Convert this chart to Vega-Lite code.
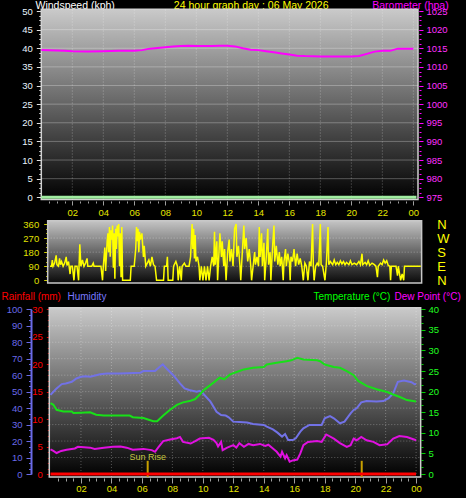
{
"$schema":"https://vega.github.io/schema/vega-lite/v6.json",
"width":466,"height":498,"autosize":{"type":"none"},"padding":0,"background":"#000000",
"config":{"view":{"stroke":null},"axis":{"grid":false,"domain":false,"labelFlush":false,"labelOverlap":false,"labelFont":"Liberation Sans Narrow, Liberation Sans, sans-serif","labelFontSize":9.5,"titleFont":"Liberation Sans, sans-serif","titleFontSize":10.5,"titleFontWeight":"normal","tickWidth":1,"format":"d"}},
"datasets":{
"one":[{"a":0}],
"g5":[{"v":5},{"v":10},{"v":15},{"v":20},{"v":25},{"v":30},{"v":35},{"v":40},{"v":45}],
"g2h":[{"h":2},{"h":4},{"h":6},{"h":8},{"h":10},{"h":12},{"h":14},{"h":16},{"h":18},{"h":20},{"h":22},{"h":24}],
"g90":[{"v":90},{"v":180},{"v":270}],
"g10":[{"v":10},{"v":20},{"v":30},{"v":40},{"v":50},{"v":60},{"v":70},{"v":80},{"v":90}],
"ws":[{"t":0,"ws":0},{"t":24.2,"ws":0}],
"rain":[{"t":0,"r":0},{"t":24,"r":0}],
"sun":[{"t":6.38,"event":"Sun Rise"},{"t":20.43,"event":"Sun Set"}],
"baro":[{"t":0,"p":1014.5},{"t":1,"p":1014.4},{"t":1.5,"p":1014.3},{"t":2,"p":1014.2},{"t":3,"p":1014.1},{"t":4,"p":1014.2},{"t":5,"p":1014.3},{"t":6,"p":1014.3},{"t":6.5,"p":1014.5},{"t":7,"p":1014.9},{"t":7.5,"p":1015.1},{"t":8,"p":1015.3},{"t":8.5,"p":1015.5},{"t":9,"p":1015.6},{"t":9.5,"p":1015.7},{"t":10,"p":1015.6},{"t":11,"p":1015.6},{"t":11.5,"p":1015.7},{"t":12,"p":1015.7},{"t":12.5,"p":1015.5},{"t":13,"p":1015.0},{"t":13.5,"p":1014.6},{"t":14,"p":1014.5},{"t":14.5,"p":1014.2},{"t":15,"p":1013.9},{"t":15.5,"p":1013.6},{"t":16,"p":1013.3},{"t":16.5,"p":1013.0},{"t":17,"p":1012.9},{"t":18,"p":1012.8},{"t":19,"p":1012.8},{"t":20,"p":1012.8},{"t":20.5,"p":1012.9},{"t":21,"p":1013.5},{"t":21.5,"p":1014.1},{"t":22,"p":1014.3},{"t":22.5,"p":1014.3},{"t":23,"p":1014.9},{"t":24,"p":1014.9}],
"hum":[{"t":0,"v":48},{"t":0.1,"v":49},{"t":0.4,"v":52},{"t":0.74,"v":54.6},{"t":1,"v":55},{"t":1.4,"v":56},{"t":1.7,"v":58},{"t":2,"v":59},{"t":2.3,"v":59.3},{"t":2.6,"v":59},{"t":3,"v":60},{"t":3.25,"v":60.5},{"t":3.7,"v":61},{"t":4.5,"v":61},{"t":5,"v":61.2},{"t":5.9,"v":61.5},{"t":6.1,"v":62.5},{"t":6.86,"v":62.5},{"t":7.1,"v":64.5},{"t":7.37,"v":66.6},{"t":7.6,"v":64.2},{"t":8.06,"v":60},{"t":8.5,"v":55},{"t":8.8,"v":52},{"t":9.1,"v":51},{"t":9.6,"v":50},{"t":9.8,"v":50.5},{"t":10,"v":49},{"t":10.5,"v":43.9},{"t":10.9,"v":37.8},{"t":11.2,"v":35.8},{"t":11.5,"v":35.5},{"t":11.7,"v":34.4},{"t":12,"v":31.8},{"t":12.4,"v":31.5},{"t":12.9,"v":31.2},{"t":13.3,"v":30.4},{"t":14,"v":29.8},{"t":14.2,"v":28.7},{"t":14.6,"v":27.1},{"t":14.9,"v":25.1},{"t":15.2,"v":22.7},{"t":15.4,"v":24.3},{"t":15.6,"v":20.6},{"t":15.9,"v":20.6},{"t":16.1,"v":21.7},{"t":16.4,"v":25.7},{"t":16.6,"v":27.7},{"t":17,"v":29.8},{"t":17.8,"v":29.8},{"t":18,"v":33.8},{"t":18.35,"v":35.2},{"t":18.6,"v":33.8},{"t":19,"v":30.8},{"t":19.3,"v":31.8},{"t":19.7,"v":36.8},{"t":19.9,"v":38.9},{"t":20.1,"v":39.9},{"t":20.4,"v":43.5},{"t":20.75,"v":44.3},{"t":21.4,"v":44},{"t":21.85,"v":44.3},{"t":22.2,"v":46},{"t":22.5,"v":49},{"t":22.8,"v":56},{"t":23.2,"v":56.7},{"t":23.7,"v":55.7},{"t":23.9,"v":54.5},{"t":24,"v":54.6}],
"temp":[{"t":0,"c":17.2},{"t":0.19,"c":16.8},{"t":0.4,"c":15.6},{"t":0.84,"c":15.2},{"t":1.4,"c":15.2},{"t":1.5,"c":14.8},{"t":2,"c":14.9},{"t":2.6,"c":15.0},{"t":3,"c":14.4},{"t":3.5,"c":14.2},{"t":5.2,"c":14.2},{"t":5.4,"c":13.8},{"t":6.1,"c":13.6},{"t":6.5,"c":13.1},{"t":6.75,"c":12.8},{"t":7,"c":12.8},{"t":7.4,"c":14.2},{"t":7.85,"c":15.6},{"t":8.3,"c":16.8},{"t":8.7,"c":17.4},{"t":9.2,"c":17.8},{"t":9.5,"c":18.2},{"t":9.8,"c":19.3},{"t":10.1,"c":20.5},{"t":10.7,"c":22.2},{"t":11.1,"c":23.4},{"t":11.4,"c":23.0},{"t":11.8,"c":24.2},{"t":12.4,"c":25.0},{"t":12.7,"c":25.4},{"t":13.3,"c":25.8},{"t":14,"c":26.0},{"t":14.2,"c":26.6},{"t":14.85,"c":27.0},{"t":15.5,"c":27.4},{"t":15.8,"c":27.6},{"t":16.2,"c":28.2},{"t":16.6,"c":27.8},{"t":17.5,"c":27.6},{"t":17.7,"c":27.4},{"t":18,"c":26.6},{"t":18.6,"c":26.0},{"t":19,"c":25.8},{"t":19.45,"c":25.0},{"t":19.9,"c":24.0},{"t":20.2,"c":22.6},{"t":20.75,"c":21.4},{"t":21.4,"c":20.6},{"t":22.1,"c":19.9},{"t":22.5,"c":19.3},{"t":22.9,"c":18.75},{"t":23.4,"c":17.95},{"t":24,"c":17.6}],
"dew":[{"t":0,"c":6.0},{"t":0.19,"c":5.6},{"t":0.4,"c":5.1},{"t":0.7,"c":5.6},{"t":1.06,"c":5.9},{"t":1.6,"c":6.2},{"t":1.8,"c":6.6},{"t":2.6,"c":6.4},{"t":2.9,"c":6.1},{"t":3.5,"c":6.4},{"t":4.1,"c":6.6},{"t":4.6,"c":6.7},{"t":5.0,"c":6.4},{"t":5.4,"c":5.9},{"t":6.1,"c":6.1},{"t":6.65,"c":5.8},{"t":6.86,"c":5.4},{"t":7.1,"c":6.6},{"t":7.4,"c":8.0},{"t":7.85,"c":8.4},{"t":8.3,"c":8.7},{"t":8.5,"c":9.0},{"t":8.7,"c":7.8},{"t":9.2,"c":7.4},{"t":9.5,"c":8.0},{"t":9.8,"c":8.6},{"t":10.4,"c":8.8},{"t":10.7,"c":8.3},{"t":10.9,"c":7.5},{"t":11.0,"c":6.7},{"t":11.2,"c":7.8},{"t":11.3,"c":5.8},{"t":11.6,"c":6.4},{"t":12.0,"c":7.0},{"t":12.2,"c":6.4},{"t":12.4,"c":7.5},{"t":12.7,"c":6.6},{"t":13.0,"c":7.3},{"t":13.3,"c":7.0},{"t":13.75,"c":7.3},{"t":14.1,"c":6.8},{"t":14.3,"c":7.1},{"t":14.6,"c":6.2},{"t":14.85,"c":5.4},{"t":15.1,"c":4.2},{"t":15.2,"c":5.4},{"t":15.4,"c":3.8},{"t":15.5,"c":4.6},{"t":15.7,"c":3.0},{"t":15.9,"c":3.3},{"t":16.2,"c":3.5},{"t":16.4,"c":5.0},{"t":16.6,"c":7.0},{"t":16.9,"c":7.8},{"t":17.5,"c":8.0},{"t":17.8,"c":7.8},{"t":18.1,"c":9.6},{"t":18.6,"c":8.6},{"t":19.0,"c":7.5},{"t":19.45,"c":6.6},{"t":19.7,"c":7.0},{"t":19.9,"c":8.6},{"t":20.1,"c":8.2},{"t":20.4,"c":9.0},{"t":20.75,"c":8.2},{"t":21.2,"c":7.8},{"t":21.6,"c":7.0},{"t":22.1,"c":7.2},{"t":22.5,"c":8.6},{"t":22.9,"c":9.2},{"t":23.4,"c":9.0},{"t":24.0,"c":8.2}],
"dir":[{"t":0,"d":90},{"t":0.1,"d":90},{"t":0.15,"d":130},{"t":0.2,"d":90},{"t":0.3,"d":110},{"t":0.4,"d":160},{"t":0.45,"d":100},{"t":0.55,"d":90},{"t":0.62,"d":140},{"t":0.68,"d":100},{"t":0.75,"d":120},{"t":0.85,"d":90},{"t":0.95,"d":110},{"t":1.05,"d":150},{"t":1.1,"d":95},{"t":1.2,"d":120},{"t":1.3,"d":40},{"t":1.35,"d":90},{"t":1.45,"d":90},{"t":1.55,"d":0},{"t":1.62,"d":90},{"t":1.75,"d":90},{"t":1.85,"d":0},{"t":1.93,"d":230},{"t":2.0,"d":90},{"t":2.1,"d":130},{"t":2.2,"d":90},{"t":2.3,"d":110},{"t":2.4,"d":140},{"t":2.45,"d":90},{"t":2.7,"d":90},{"t":2.8,"d":110},{"t":2.85,"d":90},{"t":3.3,"d":90},{"t":3.4,"d":0},{"t":3.45,"d":90},{"t":3.55,"d":210},{"t":3.6,"d":60},{"t":3.7,"d":250},{"t":3.75,"d":300},{"t":3.8,"d":180},{"t":3.85,"d":340},{"t":3.9,"d":150},{"t":3.95,"d":320},{"t":4.0,"d":260},{"t":4.05,"d":350},{"t":4.1,"d":80},{"t":4.15,"d":300},{"t":4.2,"d":10},{"t":4.25,"d":330},{"t":4.3,"d":200},{"t":4.35,"d":350},{"t":4.4,"d":280},{"t":4.45,"d":360},{"t":4.5,"d":90},{"t":4.55,"d":300},{"t":4.6,"d":20},{"t":4.65,"d":340},{"t":4.7,"d":0},{"t":5.2,"d":0},{"t":5.25,"d":90},{"t":5.45,"d":90},{"t":5.55,"d":200},{"t":5.6,"d":340},{"t":5.65,"d":250},{"t":5.7,"d":330},{"t":5.75,"d":180},{"t":5.8,"d":310},{"t":5.85,"d":260},{"t":5.95,"d":300},{"t":6.05,"d":150},{"t":6.1,"d":220},{"t":6.2,"d":90},{"t":6.3,"d":110},{"t":6.4,"d":130},{"t":6.5,"d":90},{"t":6.6,"d":150},{"t":6.7,"d":100},{"t":6.8,"d":90},{"t":6.9,"d":0},{"t":7.35,"d":0},{"t":7.4,"d":90},{"t":7.55,"d":90},{"t":7.6,"d":150},{"t":7.65,"d":0},{"t":7.95,"d":0},{"t":8.0,"d":90},{"t":8.15,"d":120},{"t":8.25,"d":90},{"t":8.3,"d":0},{"t":8.4,"d":90},{"t":8.5,"d":0},{"t":8.55,"d":90},{"t":8.7,"d":110},{"t":8.8,"d":90},{"t":9.0,"d":90},{"t":9.1,"d":150},{"t":9.2,"d":360},{"t":9.25,"d":200},{"t":9.3,"d":330},{"t":9.35,"d":140},{"t":9.4,"d":290},{"t":9.45,"d":120},{"t":9.55,"d":150},{"t":9.65,"d":90},{"t":9.7,"d":0},{"t":9.8,"d":90},{"t":9.9,"d":0},{"t":10.0,"d":90},{"t":10.1,"d":0},{"t":10.2,"d":90},{"t":10.3,"d":0},{"t":10.4,"d":90},{"t":10.5,"d":150},{"t":10.6,"d":90},{"t":10.65,"d":310},{"t":10.7,"d":100},{"t":10.8,"d":250},{"t":10.85,"d":0},{"t":10.95,"d":200},{"t":11.0,"d":300},{"t":11.1,"d":150},{"t":11.15,"d":250},{"t":11.25,"d":90},{"t":11.3,"d":200},{"t":11.4,"d":0},{"t":11.5,"d":180},{"t":11.6,"d":260},{"t":11.65,"d":120},{"t":11.75,"d":200},{"t":11.85,"d":90},{"t":11.95,"d":330},{"t":12.05,"d":360},{"t":12.1,"d":150},{"t":12.2,"d":220},{"t":12.3,"d":90},{"t":12.35,"d":0},{"t":12.45,"d":180},{"t":12.55,"d":350},{"t":12.6,"d":200},{"t":12.7,"d":270},{"t":12.8,"d":120},{"t":12.9,"d":200},{"t":13.0,"d":90},{"t":13.05,"d":0},{"t":13.15,"d":90},{"t":13.25,"d":180},{"t":13.3,"d":100},{"t":13.4,"d":150},{"t":13.5,"d":90},{"t":13.55,"d":340},{"t":13.6,"d":150},{"t":13.7,"d":300},{"t":13.75,"d":90},{"t":13.85,"d":240},{"t":13.9,"d":0},{"t":14.0,"d":150},{"t":14.1,"d":330},{"t":14.15,"d":100},{"t":14.25,"d":180},{"t":14.3,"d":0},{"t":14.4,"d":200},{"t":14.5,"d":350},{"t":14.55,"d":120},{"t":14.65,"d":220},{"t":14.75,"d":100},{"t":14.85,"d":180},{"t":14.9,"d":90},{"t":15.0,"d":150},{"t":15.1,"d":0},{"t":15.15,"d":120},{"t":15.25,"d":200},{"t":15.3,"d":90},{"t":15.4,"d":170},{"t":15.5,"d":110},{"t":15.55,"d":0},{"t":15.6,"d":150},{"t":15.7,"d":120},{"t":15.8,"d":200},{"t":15.9,"d":90},{"t":16.0,"d":170},{"t":16.1,"d":100},{"t":16.2,"d":140},{"t":16.3,"d":90},{"t":16.4,"d":0},{"t":16.5,"d":110},{"t":16.6,"d":90},{"t":16.7,"d":0},{"t":16.8,"d":120},{"t":16.9,"d":90},{"t":17.0,"d":360},{"t":17.05,"d":90},{"t":17.1,"d":0},{"t":17.2,"d":90},{"t":17.3,"d":110},{"t":17.4,"d":90},{"t":17.5,"d":360},{"t":17.55,"d":100},{"t":17.65,"d":90},{"t":17.8,"d":0},{"t":17.9,"d":120},{"t":18.0,"d":340},{"t":18.05,"d":100},{"t":18.15,"d":120},{"t":18.3,"d":100},{"t":18.4,"d":130},{"t":18.5,"d":100},{"t":18.6,"d":115},{"t":18.7,"d":100},{"t":18.8,"d":125},{"t":18.9,"d":105},{"t":19.0,"d":120},{"t":19.1,"d":100},{"t":19.2,"d":115},{"t":19.35,"d":100},{"t":19.45,"d":125},{"t":19.55,"d":100},{"t":19.7,"d":110},{"t":19.85,"d":100},{"t":20.0,"d":120},{"t":20.1,"d":100},{"t":20.2,"d":170},{"t":20.25,"d":100},{"t":20.4,"d":115},{"t":20.5,"d":100},{"t":20.6,"d":125},{"t":20.7,"d":95},{"t":20.85,"d":110},{"t":21.0,"d":100},{"t":21.1,"d":90},{"t":21.2,"d":20},{"t":21.25,"d":90},{"t":21.4,"d":110},{"t":21.5,"d":100},{"t":21.6,"d":130},{"t":21.7,"d":110},{"t":21.8,"d":125},{"t":21.9,"d":95},{"t":22.0,"d":90},{"t":22.05,"d":0},{"t":22.1,"d":90},{"t":22.4,"d":90},{"t":22.5,"d":30},{"t":22.55,"d":90},{"t":22.7,"d":0},{"t":22.8,"d":40},{"t":22.9,"d":0},{"t":22.95,"d":90},{"t":24.0,"d":90}]
},
"layer":[
 {"data":{"name":"one"},"mark":{"type":"rect","fill":{"x1":0,"y1":0,"x2":0,"y2":1,"gradient":"linear","stops":[{"offset":0,"color":"#cacaca"},{"offset":1,"color":"#000000"}]},"stroke":"#d0d0d0","strokeWidth":1.5},
  "encoding":{
   "x":{"datum":0,"type":"quantitative","scale":{"domain":[0,24.3],"range":[41.3,418],"nice":false,"zero":false},"axis":{"orient":"bottom","offset":-297,"values":[2,4,6,8,10,12,14,16,18,20,22,24],"tickSize":4,"tickColor":"#a0a0a0","labelColor":"#e6e600","labelPadding":2,"labelExpr":"datum.value === 24 ? '00' : (datum.value < 10 ? '0' + datum.value : '' + datum.value)","title":"24 hour graph day : 06 May 2026","titleColor":"#ffff00","titleX":250.7,"titleY":-192.5,"titleAlign":"center","titleBaseline":"alphabetic","titleAngle":0}},
   "x2":{"datum":24.3},
   "y":{"datum":-0.6,"type":"quantitative","scale":{"domain":[0,50],"range":[197.3,11],"nice":false,"zero":false},"axis":{"orient":"left","offset":-41.3,"values":[0,5,10,15,20,25,30,35,40,45,50],"tickSize":5,"tickColor":"#e0e0e0","labelColor":"#e8f4ff","labelPadding":4,"title":"Windspeed (kph)","titleColor":"#ffffff","titleX":-6.3,"titleY":8.5,"titleAlign":"left","titleBaseline":"alphabetic","titleAngle":0}},
   "y2":{"datum":50.5}}},
 {"data":{"name":"g5"},"mark":{"type":"rule","color":"#ffffff","opacity":0.28},
  "encoding":{"y":{"field":"v","type":"quantitative","scale":{"domain":[0,50],"range":[197.3,11],"nice":false,"zero":false},"axis":null},"x":{"datum":0,"type":"quantitative","scale":{"domain":[0,24.3],"range":[41.3,418],"nice":false,"zero":false},"axis":null},"x2":{"datum":24.3}}},
 {"data":{"name":"g2h"},"mark":{"type":"rule","color":"#ffffff","opacity":0.35,"strokeDash":[1,2]},
  "encoding":{"x":{"field":"h","type":"quantitative","scale":{"domain":[0,24.3],"range":[41.3,418],"nice":false,"zero":false},"axis":null},"y":{"datum":-0.6,"type":"quantitative","scale":{"domain":[0,50],"range":[197.3,11],"nice":false,"zero":false},"axis":null},"y2":{"datum":50.5}}},
 {"data":{"name":"ws"},"mark":{"type":"line","color":"#a0eca0","strokeWidth":3},
  "encoding":{"x":{"field":"t","type":"quantitative","scale":{"domain":[0,24.3],"range":[41.3,418],"nice":false,"zero":false},"axis":null},"y":{"field":"ws","type":"quantitative","scale":{"domain":[0,50],"range":[197.3,11],"nice":false,"zero":false},"axis":null}}},
 {"data":{"name":"one"},"mark":{"type":"point","opacity":0},
  "encoding":{"x":{"field":"a","type":"quantitative","scale":{"domain":[0,24.3],"range":[41.3,418],"nice":false,"zero":false},"axis":{"orient":"bottom","offset":-297,"values":[0.5,1,1.5,2,2.5,3,3.5,4,4.5,5,5.5,6,6.5,7,7.5,8,8.5,9,9.5,10,10.5,11,11.5,12,12.5,13,13.5,14,14.5,15,15.5,16,16.5,17,17.5,18,18.5,19,19.5,20,20.5,21,21.5,22,22.5,23,23.5,24],"tickSize":2,"tickColor":"#a0a0a0","labels":false,"title":null}},
   "y":{"field":"a","type":"quantitative","scale":{"domain":[0,50],"range":[197.3,11],"nice":false,"zero":false},"axis":{"orient":"left","offset":-41.3,"values":[0,1.25,2.5,3.75,5,6.25,7.5,8.75,10,11.25,12.5,13.75,15,16.25,17.5,18.75,20,21.25,22.5,23.75,25,26.25,27.5,28.75,30,31.25,32.5,33.75,35,36.25,37.5,38.75,40,41.25,42.5,43.75,45,46.25,47.5,48.75,50],"tickSize":2.5,"tickColor":"#e0e0e0","labels":false,"title":null}}}},
 {"data":{"name":"baro"},"mark":{"type":"line","color":"#ff00ff","strokeWidth":2},
  "encoding":{"x":{"field":"t","type":"quantitative","scale":{"domain":[0,24.3],"range":[41.3,418],"nice":false,"zero":false},"axis":null},
   "y":{"field":"p","type":"quantitative","scale":{"domain":[975,1025],"range":[197.3,11],"nice":false,"zero":false},"axis":{"orient":"right","offset":-47,"values":[975,980,985,990,995,1000,1005,1010,1015,1020,1025],"tickSize":4,"tickColor":"#ff00ff","labelColor":"#ff30ff","labelPadding":3,"title":"Barometer (hpa)","titleColor":"#ff00ff","titleX":-47.3,"titleY":8,"titleAlign":"left","titleBaseline":"alphabetic","titleAngle":0}}}},
 {"data":{"name":"baro"},"mark":{"type":"point","opacity":0},
  "encoding":{"y":{"field":"p","type":"quantitative","scale":{"domain":[975,1025],"range":[197.3,11],"nice":false,"zero":false},"axis":{"orient":"right","offset":-47,"values":[975,976.25,977.5,978.75,980,981.25,982.5,983.75,985,986.25,987.5,988.75,990,991.25,992.5,993.75,995,996.25,997.5,998.75,1000,1001.25,1002.5,1003.75,1005,1006.25,1007.5,1008.75,1010,1011.25,1012.5,1013.75,1015,1016.25,1017.5,1018.75,1020,1021.25,1022.5,1023.75,1025],"tickSize":2,"tickColor":"#ff00ff","labels":false,"title":null}}}},
 {"data":{"name":"one"},"mark":{"type":"rect","fill":{"x1":0,"y1":0,"x2":0,"y2":1,"gradient":"linear","stops":[{"offset":0,"color":"#c4c4c4"},{"offset":1,"color":"#0a0a0a"}]},"stroke":"#c8c8c8","strokeWidth":1.5},
  "encoding":{"x":{"datum":-0.15,"type":"quantitative","scale":{"domain":[0,24],"range":[50,420.7],"nice":false,"zero":false},"axis":null},"x2":{"datum":24.06},
   "y":{"datum":-17,"type":"quantitative","scale":{"domain":[0,360],"range":[280.3,224],"nice":false,"zero":false},"axis":{"orient":"left","offset":-47.7,"values":[0,90,180,270,360],"tickSize":4,"tickColor":"#d0d000","labelColor":"#e0e000","labelPadding":5,"title":null}},"y2":{"datum":380}}},
 {"data":{"name":"g90"},"mark":{"type":"rule","color":"#ffffff","opacity":0.35,"strokeDash":[1,2]},
  "encoding":{"y":{"field":"v","type":"quantitative","scale":{"domain":[0,360],"range":[280.3,224],"nice":false,"zero":false},"axis":null},"x":{"datum":-0.15,"type":"quantitative","scale":{"domain":[0,24],"range":[50,420.7],"nice":false,"zero":false},"axis":null},"x2":{"datum":24.06}}},
 {"data":{"name":"dir"},"mark":{"type":"line","color":"#ffff00","strokeWidth":1.5},
  "encoding":{"x":{"field":"t","type":"quantitative","scale":{"domain":[0,24],"range":[50,420.7],"nice":false,"zero":false},"axis":null},"y":{"field":"d","type":"quantitative","scale":{"domain":[0,360],"range":[280.3,224],"nice":false,"zero":false},"axis":null}}},
 {"data":{"name":"dir"},"mark":{"type":"point","opacity":0},
  "encoding":{"y":{"field":"d","type":"quantitative","scale":{"domain":[0,360],"range":[280.3,224],"nice":false,"zero":false},"axis":{"orient":"left","offset":-47.7,"values":[0,30,60,90,120,150,180,210,240,270,300,330,360],"tickSize":2,"tickColor":"#d0d000","labels":false,"title":null}}}},
 {"data":{"name":"dir"},"mark":{"type":"point","opacity":0},
  "encoding":{"y":{"field":"d","type":"quantitative","scale":{"domain":[0,360],"range":[280.3,224],"nice":false,"zero":false},"axis":{"orient":"right","offset":-29.3,"values":[0,90,180,270,360],"ticks":false,"labelExpr":"datum.value == 0 || datum.value == 360 ? 'N' : (datum.value == 90 ? 'E' : (datum.value == 180 ? 'S' : 'W'))","labelFont":"Liberation Sans, sans-serif","labelFontSize":13,"labelColor":"#ffff00","labelPadding":0,"labelAlign":"left","labelBaseline":"middle","title":null}}}},
 {"data":{"name":"one"},"mark":{"type":"rect","fill":{"x1":0,"y1":0,"x2":0,"y2":1,"gradient":"linear","stops":[{"offset":0,"color":"#cacaca"},{"offset":1,"color":"#000000"}]},"stroke":"#d0d0d0","strokeWidth":1.5},
  "encoding":{
   "x":{"datum":-0.08,"type":"quantitative","scale":{"domain":[0,24],"range":[50.5,416.1],"nice":false,"zero":false},"axis":{"orient":"bottom","offset":-20,"values":[2,4,6,8,10,12,14,16,18,20,22,24],"tickSize":5,"tickColor":"#a0a0a0","labelColor":"#e6e600","labelPadding":0.5,"labelExpr":"datum.value === 24 ? '00' : (datum.value < 10 ? '0' + datum.value : '' + datum.value)","title":"Dew Point (°C)","titleFontSize":10,"titleColor":"#ff00ff","titleX":394,"titleY":-179,"titleAlign":"left","titleBaseline":"alphabetic","titleAngle":0}},
   "x2":{"datum":24.3},
   "y":{"datum":-1.8,"type":"quantitative","scale":{"domain":[0,100],"range":[474,309.3],"nice":false,"zero":false},"axis":{"orient":"left","offset":-31,"domain":true,"domainColor":"#6a6ae8","domainWidth":2,"values":[0,10,20,30,40,50,60,70,80,90,100],"tickSize":5,"tickColor":"#6a6ae8","labelColor":"#6a6ae8","labelPadding":4,"title":"Humidity","titleFontSize":10,"titleColor":"#7878ff","titleX":36,"titleY":299,"titleAlign":"left","titleBaseline":"alphabetic","titleAngle":0}},
   "y2":{"datum":101}}},
 {"data":{"name":"g10"},"mark":{"type":"rule","color":"#ffffff","opacity":0.3,"strokeDash":[1,2]},
  "encoding":{"y":{"field":"v","type":"quantitative","scale":{"domain":[0,100],"range":[474,309.3],"nice":false,"zero":false},"axis":null},"x":{"datum":-0.08,"type":"quantitative","scale":{"domain":[0,24],"range":[50.5,416.1],"nice":false,"zero":false},"axis":null},"x2":{"datum":24.3}}},
 {"data":{"name":"g2h"},"mark":{"type":"rule","color":"#ffffff","opacity":0.3,"strokeDash":[1,2]},
  "encoding":{"x":{"field":"h","type":"quantitative","scale":{"domain":[0,24],"range":[50.5,416.1],"nice":false,"zero":false},"axis":null},"y":{"datum":-1.8,"type":"quantitative","scale":{"domain":[0,100],"range":[474,309.3],"nice":false,"zero":false},"axis":null},"y2":{"datum":101}}},
 {"data":{"name":"hum"},"mark":{"type":"line","color":"#7272e6","strokeWidth":2},
  "encoding":{"x":{"field":"t","type":"quantitative","scale":{"domain":[0,24],"range":[50.5,416.1],"nice":false,"zero":false},"axis":null},"y":{"field":"v","type":"quantitative","scale":{"domain":[0,100],"range":[474,309.3],"nice":false,"zero":false},"axis":null}}},
 {"data":{"name":"sun"},"mark":{"type":"rule","color":"#c8a000","strokeWidth":2},
  "encoding":{"x":{"field":"t","type":"quantitative","scale":{"domain":[0,24],"range":[50.5,416.1],"nice":false,"zero":false},"axis":null},"y":{"datum":-1.8,"type":"quantitative","scale":{"domain":[0,100],"range":[474,309.3],"nice":false,"zero":false},"axis":null},"y2":{"datum":8}}},
 {"data":{"name":"sun"},"transform":[{"filter":"datum.event == 'Sun Rise'"}],"mark":{"type":"text","color":"#c4c440","font":"Liberation Sans, sans-serif","fontSize":9,"align":"center","baseline":"middle"},
  "encoding":{"x":{"field":"t","type":"quantitative","scale":{"domain":[0,24],"range":[50.5,416.1],"nice":false,"zero":false},"axis":null},"y":{"datum":10.5,"type":"quantitative","scale":{"domain":[0,100],"range":[474,309.3],"nice":false,"zero":false},"axis":null},"text":{"field":"event"}}},
 {"data":{"name":"one"},"mark":{"type":"point","opacity":0},
  "encoding":{"x":{"field":"a","type":"quantitative","scale":{"domain":[0,24],"range":[50.5,416.1],"nice":false,"zero":false},"axis":{"orient":"bottom","offset":-20,"values":[0.5,1,1.5,2,2.5,3,3.5,4,4.5,5,5.5,6,6.5,7,7.5,8,8.5,9,9.5,10,10.5,11,11.5,12,12.5,13,13.5,14,14.5,15,15.5,16,16.5,17,17.5,18,18.5,19,19.5,20,20.5,21,21.5,22,22.5,23,23.5,24],"tickSize":3,"tickColor":"#a0a0a0","labels":false,"title":null}},
   "y":{"field":"a","type":"quantitative","scale":{"domain":[0,100],"range":[474,309.3],"nice":false,"zero":false},"axis":{"orient":"left","offset":-31,"values":[0,3.33,6.67,10,13.33,16.67,20,23.33,26.67,30,33.33,36.67,40,43.33,46.67,50,53.33,56.67,60,63.33,66.67,70,73.33,76.67,80,83.33,86.67,90,93.33,96.67,100],"tickSize":2.5,"tickColor":"#6a6ae8","labels":false,"title":null}}}},
 {"data":{"name":"rain"},"mark":{"type":"line","color":"#ff0000","strokeWidth":3},
  "encoding":{"x":{"field":"t","type":"quantitative","scale":{"domain":[0,24],"range":[50.5,416.1],"nice":false,"zero":false},"axis":null},
   "y":{"field":"r","type":"quantitative","scale":{"domain":[0,30],"range":[474,309.3],"nice":false,"zero":false},"axis":{"orient":"left","offset":-49.3,"values":[0,5,10,15,20,25,30],"tickSize":3,"tickColor":"#e00000","labelColor":"#ff0000","labelPadding":4,"title":"Rainfall (mm)","titleFontSize":10,"titleColor":"#ff0000","titleX":-48.3,"titleY":299,"titleAlign":"left","titleBaseline":"alphabetic","titleAngle":0}}}},
 {"data":{"name":"rain"},"mark":{"type":"point","opacity":0},
  "encoding":{"y":{"field":"r","type":"quantitative","scale":{"domain":[0,30],"range":[474,309.3],"nice":false,"zero":false},"axis":{"orient":"left","offset":-49.3,"values":[0,1,2,3,4,5,6,7,8,9,10,11,12,13,14,15,16,17,18,19,20,21,22,23,24,25,26,27,28,29,30],"tickSize":2,"tickColor":"#c00000","labels":false,"title":null}}}},
 {"data":{"name":"temp"},"mark":{"type":"line","color":"#18e018","strokeWidth":2},
  "encoding":{"x":{"field":"t","type":"quantitative","scale":{"domain":[0,24],"range":[50.5,416.1],"nice":false,"zero":false},"axis":null},
   "y":{"field":"c","type":"quantitative","scale":{"domain":[0,40],"range":[474,309.3],"nice":false,"zero":false},"axis":{"orient":"right","offset":-45,"values":[0,5,10,15,20,25,30,35,40],"tickSize":4,"tickColor":"#00d000","labelColor":"#20ff20","labelPadding":3,"title":"Temperature (°C)","titleFontSize":10,"titleColor":"#00ff00","titleX":-108,"titleY":299,"titleAlign":"left","titleBaseline":"alphabetic","titleAngle":0}}}},
 {"data":{"name":"dew"},"mark":{"type":"line","color":"#e010e0","strokeWidth":2},
  "encoding":{"x":{"field":"t","type":"quantitative","scale":{"domain":[0,24],"range":[50.5,416.1],"nice":false,"zero":false},"axis":null},
   "y":{"field":"c","type":"quantitative","scale":{"domain":[0,40],"range":[474,309.3],"nice":false,"zero":false},"axis":null}}},
 {"data":{"name":"temp"},"mark":{"type":"point","opacity":0},
  "encoding":{"y":{"field":"c","type":"quantitative","scale":{"domain":[0,40],"range":[474,309.3],"nice":false,"zero":false},"axis":{"orient":"right","offset":-45,"values":[0,1.67,3.33,5,6.67,8.33,10,11.67,13.33,15,16.67,18.33,20,21.67,23.33,25,26.67,28.33,30,31.67,33.33,35,36.67,38.33,40],"tickSize":2,"tickColor":"#00d000","labels":false,"title":null}}}}
],
"resolve":{"scale":{"x":"independent","y":"independent"},"axis":{"x":"independent","y":"independent"}}
}
